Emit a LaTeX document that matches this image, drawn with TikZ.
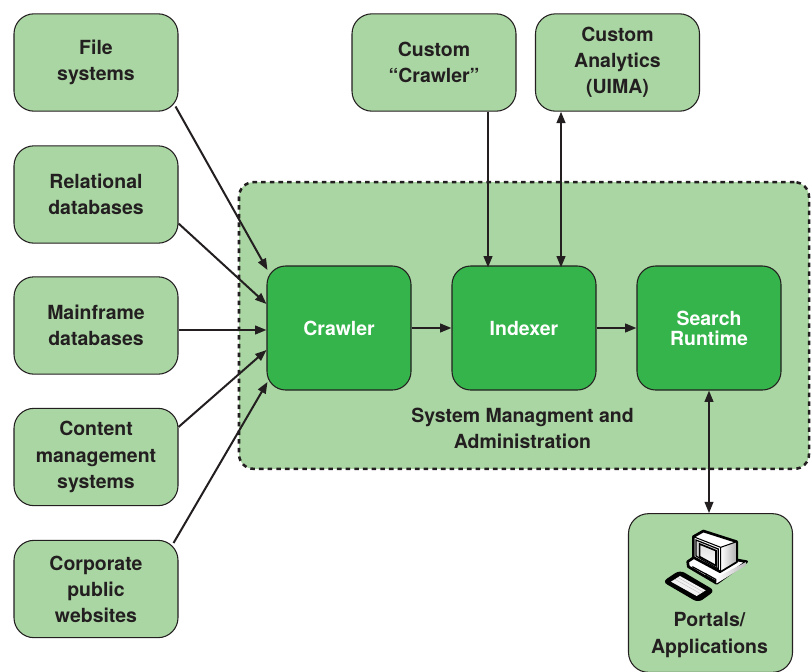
\documentclass[tikz,border=0pt]{standalone}
\usepackage{fontspec}
\setmainfont{TeX Gyre Heros}
\usetikzlibrary{arrows.meta,calc}
\definecolor{lightg}{HTML}{AAD6A3}
\definecolor{darkg}{HTML}{35B44C}
\definecolor{ink}{HTML}{231F20}
\tikzset{
  x=0.75pt,y=-0.75pt,
  lbl/.style={font=\fontsize{14.6}{19.6}\selectfont\bfseries,text=ink,align=center,inner sep=0pt},
  source/.style={lbl,draw=ink,line width=0.8pt,fill=lightg,rounded corners=15pt,minimum width=123pt,minimum height=73pt},
  engine/.style={draw=ink,line width=0.8pt,fill=darkg,rounded corners=14pt,minimum width=108pt,minimum height=93pt,inner sep=0pt,align=center,text=white,font=\fontsize{14.6}{15}\selectfont\bfseries},
  conn/.style={draw=ink,line width=1.5pt,-{Triangle[length=8.5pt,width=6.5pt]}},
  bothconn/.style={draw=ink,line width=1.5pt,{Triangle[length=8.5pt,width=6.5pt]}-{Triangle[length=8.5pt,width=6.5pt]}},
  iconline/.style={draw=black,line width=2pt,line join=round},
}
\begin{document}
\begin{tikzpicture}
\useasboundingbox (0,0) rectangle (812,671);
\node[fill=lightg,draw=ink,line width=1.9pt,dash pattern=on 3.4pt off 3.1pt,rounded corners=11pt,minimum width=427.5pt,minimum height=215pt,inner sep=0pt] (sys) at (524,325.5) {};
\node[source] (file) at (96,62.5) {File\\systems};
\node[source] (rel) at (96,194.5) {Relational\\databases};
\node[source] (main) at (96,325.5) {Mainframe\\databases};
\node[source] (cms) at (96,457) {Content\\management\\systems};
\node[source] (web) at (96,589) {Corporate\\public\\websites};
\node[source] (cc) at (434,62.5) {Custom\\“Crawler”};
\node[source] (ua) at (617.5,62.5) {Custom\\Analytics\\(UIMA)};
\node[engine] (crawler) at (339,328) {Crawler};
\node[engine] (indexer) at (524,328) {Indexer};
\node[engine] (search) at (709,328) {Search\\Runtime};
\node[lbl] (mgmt) at (522.5,428) {System Managment and\\Administration};
\node[source,minimum height=119pt] (portal) at (710.5,593) {};
\node[lbl] (portaltext) at (709.5,635) {Portals/\\Applications};
% connectors
\draw[conn] ($(file.east)+(-3,44)$) -- ($(crawler.west)+(1,-58)$);
\draw[conn] ($(rel.east)+(0,29)$) -- ($(crawler.west)+(0,-24)$);
\draw[conn] ($(main.east)+(0,4.5)$) -- ($(crawler.west)+(0,2)$);
\draw[conn] ($(cms.east)+(0,-30)$) -- ($(crawler.west)+(0,22)$);
\draw[conn] ($(web.east)+(-5,-46)$) -- ($(crawler.west)+(1,54)$);
\draw[conn] (crawler.east) -- (indexer.west);
\draw[conn] (indexer.east) -- (search.west);
\draw[conn] ($(cc.south)+(54,0)$) -- ($(indexer.north)+(-36,2)$);
\draw[bothconn] ($(ua.south)+(-56.5,0)$) -- ($(indexer.north)+(37,2)$);
\draw[bothconn] (search.south) -- ($(portal.north)+(-1.5,0)$);
% computer icon
\begin{scope}[shift={(655,520)},x=0.25pt,y=-0.25pt]
 \fill[black,rounded corners=4pt] (22,185) -- (75,150) -- (180,212) -- (130,248) -- cycle;
 \fill[white!90!gray] (48,185) -- (75,168) -- (152,211) -- (125,228) -- cycle;
 \draw[gray!50,line width=.3pt] (60,178) -- (137,221) (68,172) -- (145,216);
 \path[iconline,fill=white] (98,125) -- (135,100) -- (275,125) -- (185,190) -- (100,140) -- cycle;
 \shade[left color=white,right color=gray!55] (185,172) -- (275,125) -- (275,135) -- (185,190) -- cycle;
 \draw[black,line width=0.9pt] (112,140) -- (182,178) (150,160) -- (182,178) -- (182,188);
 \draw[black,line width=0.8pt] (150,165) -- (182,183);
 \path[iconline,fill=white] (115,50) -- (145,33) -- (245,65) -- (245,125) -- (195,155) -- (115,112) -- cycle;
 \shade[left color=white,right color=gray!60] (197,85) -- (243,66) -- (243,124) -- (197,152) -- cycle;
 \draw[black,line width=.8pt] (115,50) -- (197,82) -- (245,65) (197,82) -- (197,153);
 \draw[black,line width=.9pt,fill=gray!35!white] (123,60) -- (190,87) -- (190,147) -- (123,108) -- cycle;
 \shade[top color=gray!25,bottom color=white,draw=black,line width=1.2pt] (134,72) -- (183,92) -- (183,137) -- (134,110) -- cycle;
\end{scope}
\end{tikzpicture}
\end{document}
